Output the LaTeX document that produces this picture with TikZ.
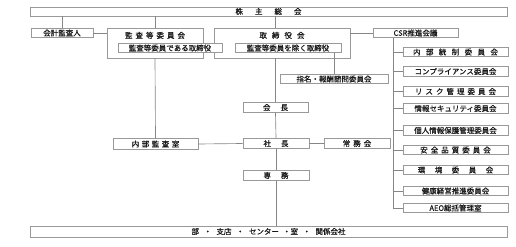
\documentclass[tikz,border=0pt]{standalone}
\usepackage{fontspec}
\setmainfont{Noto Sans CJK JP}[FakeBold=0.6]
\makeatletter
% letter-spaced text
\newcommand{\spread}[2]{\def\spr@gap{}\@tfor\spr@c:=#2\do{\spr@gap\spr@c\def\spr@gap{\hspace{#1}}}}
\makeatother
\tikzset{
  box/.style={draw=gray!80, line width=0.6pt, fill=white, inner sep=0pt,
    minimum height=9.5pt, font=\fontsize{7.5}{9}\selectfont, text=black!90},
  ttl/.style={inner sep=0pt, anchor=north, yshift=-4pt,
    font=\fontsize{7.5}{9}\selectfont, text=black!90},
  wire/.style={draw=gray!95, line width=0.65pt},
}
\begin{document}
\begin{tikzpicture}[x=1pt,y=-1pt]
    \useasboundingbox (0,0) rectangle (516,246);
    % top and bottom rows
    \node[box, minimum width=477pt, minimum height=9pt] (agm) at (268.5,11.5) {\spread{12pt}{株主総会}};
    \node[box, minimum width=477pt, minimum height=11pt] (dept) at (268.5,231.5)
      {部\hspace{5pt}・\hspace{5pt}支店\hspace{5pt}・\hspace{5pt}センター\hspace{4pt}・室\hspace{5pt}・\hspace{5pt}関係会社};
    % boards
    \node[box, minimum width=62pt, minimum height=8.5pt] (auditor) at (62,33) {会計監査人};
    \node[box, minimum width=96pt, minimum height=30pt,
      label={[ttl]north:\spread{3pt}{監査等委員会}}] (acc) at (155,43) {};
    \node[box, minimum width=136pt, minimum height=30pt,
      label={[ttl]north:\spread{5pt}{取締役会}}] (board) at (282,43) {};
    \node[box, minimum width=104pt] (accdir) at (170,48) {監査等委員である取締役};
    \node[box, minimum width=106pt] (otherdir) at (288,48) {監査等委員を除く取締役};
    \node[box, minimum width=108pt, minimum height=9pt] (nomin) at (334,79) {指名・報酬諮問委員会};
    \node[box, minimum width=85pt, minimum height=8.5pt] (csr) at (415.5,33) {CSR推進会議};
    % executives
    \node[box, minimum width=65pt, minimum height=10pt] (chair) at (275.5,107.5) {\spread{10pt}{会長}};
    \node[box, minimum width=66pt, minimum height=10.5pt] (pres) at (276,143.5) {\spread{10pt}{社長}};
    \node[box, minimum width=66pt, minimum height=10.5pt] (mgmt) at (357,143.5) {\spread{3pt}{常務会}};
    \node[box, minimum width=66pt, minimum height=10.5pt] (senior) at (276,175.5) {\spread{10pt}{専務}};
    \node[box, minimum width=85pt, minimum height=11pt] (audit) at (155.5,144) {\spread{2.5pt}{内部監査室}};
    % CSR committees
    \foreach \nm/\y/\txt in {
        c1/52/{\spread{5.4pt}{内部統制委員会}},
        c2/71.5/{コンプライアンス委員会},
        c3/91.5/{\spread{3pt}{リスク管理委員会}},
        c4/108.5/{情報セキュリティ委員会},
        c5/130.5/{個人情報保護管理委員会},
        c6/150/{\spread{3pt}{安全品質委員会}},
        c7/170/{\spread{9.5pt}{環境委員会}},
        c8/191/{健康経営推進委員会},
        c9/208/{AEO総括管理室}}
      \node[box, minimum width=105pt] (\nm) at (455.5,\y) {\txt};
    \coordinate (bus) at (393,0);
    % connectors
    \draw[wire] (auditor.north) -- (auditor.north |- agm.south);
    \draw[wire] (acc.north) -- (acc.north |- agm.south);
    \draw[wire] (board.north -| chair) -- (agm.south -| chair);
    \draw[wire] (auditor.east) -- (auditor.east -| acc.west);
    \draw[wire] (csr.west) -- (csr.west -| board.east);
    \draw[wire] (acc.south) -- (audit.north);
    \draw[wire] (nomin.north) -- (nomin.north |- otherdir.south);
    \draw[wire] (board.south -| chair) -- (chair.north);
    \draw[wire] (chair.south) -- (pres.north);
    \draw[wire] (pres.south) -- (senior.north);
    \draw[wire] (senior.south) -- (senior.south |- dept.north);
    \draw[wire] (audit.east) -- (pres.west);
    \draw[wire] (pres.east) -- (mgmt.west);
    \draw[wire] (csr.south -| bus) |- (c9.west);
    \foreach \nm in {c1,c2,c3,c4,c5,c6,c7,c8}
      \draw[wire] (bus |- \nm.west) -- (\nm.west);
\end{tikzpicture}
\end{document}
